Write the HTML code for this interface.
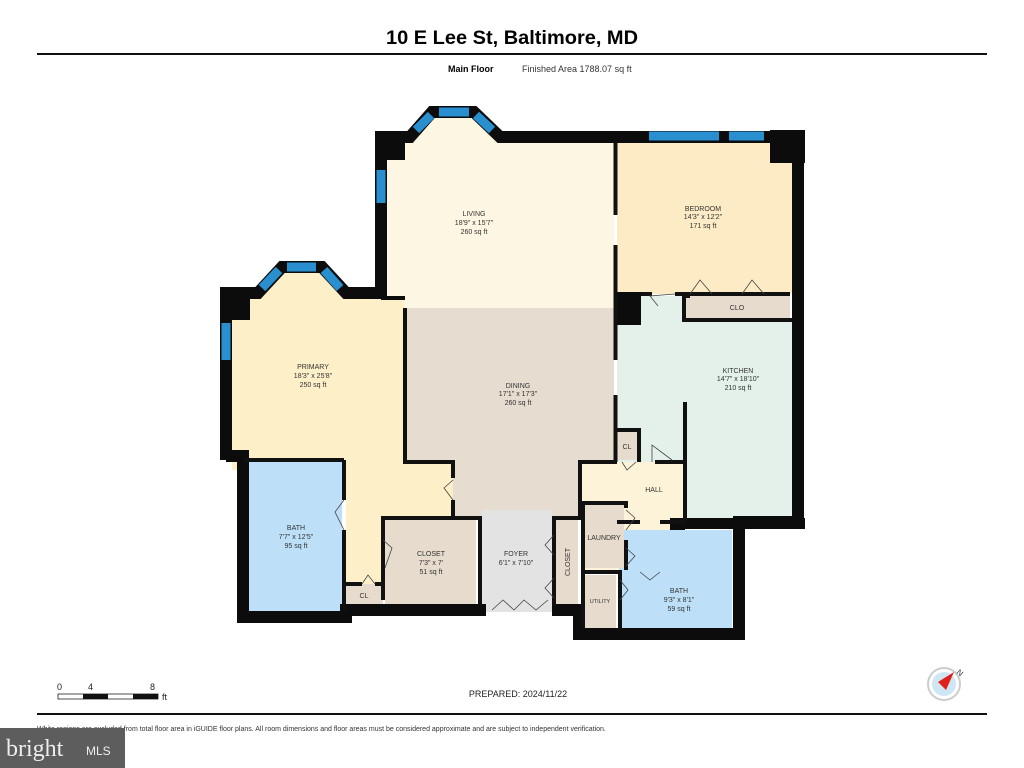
<!DOCTYPE html>
<html><head><meta charset="utf-8"><style>
html,body{margin:0;padding:0;background:#fff}
svg{display:block;font-family:"Liberation Sans",sans-serif}
</style></head><body>
<svg width="1024" height="768" viewBox="0 0 1024 768" xmlns="http://www.w3.org/2000/svg">
<rect width="1024" height="768" fill="#fff"/>
<text x="512" y="44" font-size="19" font-weight="bold" text-anchor="middle" textLength="252" lengthAdjust="spacingAndGlyphs">10 E Lee St, Baltimore, MD</text>
<rect x="37" y="53" width="950" height="2" fill="#111"/>
<text x="448" y="72" font-size="9" font-weight="bold">Main Floor</text>
<text x="522" y="72" font-size="9" fill="#333">Finished Area 1788.07 sq ft</text>

<!-- rooms -->
<polygon points="387,143 410,143 432,113 474,113 500,143 614,143 614,308 387,308" fill="#fdf6e3"/>
<rect x="617" y="143" width="176" height="151" fill="#fdebc6"/>
<polygon points="232,298 258,298 282,270 322,270 346,298 403,298 405,308 405,462 453,462 453,516 383,516 383,584 346,584 346,470 232,470" fill="#fdefc8"/>
<polygon points="405,308 614,308 614,462 581,462 581,516 453,516 453,462 405,462" fill="#e6ddd0"/>
<rect x="482" y="510" width="70" height="102" fill="#e3e3e3"/>
<polygon points="617,325 641,325 641,296 684,296 684,322 793,322 793,520 683,520 683,462 617,462" fill="#e3f1ea"/>
<rect x="686" y="296" width="104" height="24" fill="#e6dbcc"/>
<rect x="617" y="432" width="20" height="28" fill="#e6dbcc"/>
<rect x="581" y="462" width="102" height="108" fill="#fdf3d8"/>
<rect x="248" y="462" width="94" height="150" fill="#bde0f8"/>
<rect x="619" y="530" width="113" height="98" fill="#bde0f8"/>
<rect x="385" y="520" width="91" height="84" fill="#e6dbcc"/>
<rect x="346" y="584" width="37" height="21" fill="#e6dbcc"/>
<rect x="556" y="520" width="22" height="84" fill="#e6dbcc"/>
<rect x="585" y="505" width="39" height="63" fill="#e6dbcc"/>
<rect x="585" y="575" width="31" height="53" fill="#e6dbcc"/>

<!-- outer walls -->
<g fill="none" stroke="#0c0c0c" stroke-width="12" stroke-linejoin="miter">
<polyline points="226,460 226,293 258,293 282,267 322,267 346,293 381,293 381,137 410,137 432,112 474,112 500,137 798,137 798,522 739,522 739,634 579,634 579,610 552,610"/>
<polyline points="486,610 346,610 346,617 243,617 243,456 226,456"/>
</g>
<g fill="#0c0c0c">
<rect x="375" y="132" width="30" height="28"/>
<rect x="220" y="287" width="30" height="33"/>
<rect x="770" y="130" width="35" height="33"/>
<rect x="614" y="292" width="27" height="33"/>
<rect x="381" y="296" width="24" height="4"/>
<rect x="683" y="518" width="122" height="11"/>
<rect x="670" y="518" width="15" height="12"/>
</g>
<!-- interior walls -->
<g fill="none" stroke="#111" stroke-width="4">
<line x1="615.5" y1="143" x2="615.5" y2="215"/>
<line x1="615.5" y1="245" x2="615.5" y2="360"/>
<line x1="615.5" y1="395" x2="615.5" y2="462"/>
<polyline points="405,308 405,462 453,462 453,478"/>
<line x1="453" y1="500" x2="453" y2="518"/>
<polyline points="383,600 383,518 480,518 480,606"/>
<polyline points="554,606 554,518 580,518 580,462 617,462"/>
<line x1="344" y1="460" x2="344" y2="500"/>
<line x1="344" y1="530" x2="344" y2="610"/>
<line x1="346" y1="584" x2="362" y2="584"/>
<line x1="375" y1="584" x2="385" y2="584"/>
<line x1="244" y1="460" x2="344" y2="460"/>
<polyline points="583,628 583,503 626,503 626,508"/>
<line x1="626" y1="540" x2="626" y2="570"/>
<polyline points="583,572 620,572 620,630"/>
<line x1="685" y1="520" x2="685" y2="402"/>
<line x1="655" y1="462" x2="685" y2="462"/>
<polyline points="617,430 639,430 639,462"/>
<polyline points="684,322 684,296 690,296"/>
<line x1="684" y1="320" x2="793" y2="320"/>
<line x1="641" y1="294" x2="652" y2="294"/>
<line x1="675" y1="294" x2="790" y2="294"/>
<line x1="617" y1="522" x2="640" y2="522"/>
<line x1="660" y1="522" x2="685" y2="522"/>
</g>
<!-- windows -->
<g stroke="#2a8fcf" stroke-width="9" fill="none">
<line x1="416" y1="130" x2="431" y2="115"/>
<line x1="439" y1="112" x2="469" y2="112"/>
<line x1="476" y1="115" x2="492" y2="130"/>
<line x1="262" y1="288" x2="279" y2="270"/>
<line x1="287" y1="267" x2="316" y2="267"/>
<line x1="324" y1="270" x2="340" y2="288"/>
<line x1="381" y1="170" x2="381" y2="203"/>
<line x1="226" y1="323" x2="226" y2="360"/>
<line x1="649" y1="136" x2="719" y2="136"/>
<line x1="729" y1="136" x2="764" y2="136"/>
</g>
<!-- doors -->
<g stroke="#444" stroke-width="0.8" fill="none">
<polyline points="453,480 444,488 453,500"/>
<polyline points="344,500 335,512 344,530"/>
<polyline points="383,540 392,548 385,568"/>
<polyline points="362,584 368,575 375,584"/>
<polyline points="492,610 503,600 514,610 524,600 536,610 548,600"/>
<polyline points="554,535 545,545 554,555"/>
<polyline points="554,578 545,588 554,598"/>
<polyline points="626,510 635,518 626,530"/>
<polyline points="626,548 635,556 626,566"/>
<polyline points="620,580 628,590 620,600"/>
<polyline points="640,572 650,580 660,572"/>
<polyline points="658,306 650,296 675,294"/>
<polyline points="690,294 700,280 712,294"/>
<polyline points="742,294 752,280 764,294"/>
<polyline points="622,462 627,470 636,462"/>
<polyline points="652,462 652,445 672,460"/>
</g>
<!-- labels -->
<g font-size="7" fill="#333" text-anchor="middle">
<text x="474" y="216">LIVING</text><text x="474" y="225">18'9" x 15'7"</text><text x="474" y="234">260 sq ft</text>
<text x="703" y="211">BEDROOM</text><text x="703" y="219">14'3" x 12'2"</text><text x="703" y="228">171 sq ft</text>
<text x="313" y="369">PRIMARY</text><text x="313" y="378">18'3" x 25'8"</text><text x="313" y="387">250 sq ft</text>
<text x="518" y="388">DINING</text><text x="518" y="396">17'1" x 17'3"</text><text x="518" y="405">260 sq ft</text>
<text x="738" y="373">KITCHEN</text><text x="738" y="381">14'7" x 18'10"</text><text x="738" y="390">210 sq ft</text>
<text x="296" y="530">BATH</text><text x="296" y="539">7'7" x 12'5"</text><text x="296" y="548">95 sq ft</text>
<text x="431" y="556">CLOSET</text><text x="431" y="565">7'3" x 7'</text><text x="431" y="574">51 sq ft</text>
<text x="516" y="556">FOYER</text><text x="516" y="565">6'1" x 7'10"</text>
<text x="679" y="593">BATH</text><text x="679" y="602">9'3" x 8'1"</text><text x="679" y="611">59 sq ft</text>
<text x="654" y="492">HALL</text>
<text x="737" y="310">CLO</text>
<text x="627" y="449">CL</text>
<text x="364" y="598">CL</text>
<text x="604" y="540">LAUNDRY</text>
<text x="600" y="603" font-size="5.5">UTILITY</text>
<text x="0" y="0" transform="translate(570,562) rotate(-90)">CLOSET</text>
</g>
<!-- footer -->
<g font-size="9" fill="#222">
<text x="57" y="690">0</text><text x="88" y="690">4</text><text x="150" y="690">8</text>
<text x="162" y="700">ft</text>
<text x="518" y="697" text-anchor="middle">PREPARED: 2024/11/22</text>
</g>
<rect x="58" y="694" width="100" height="5" fill="#fff" stroke="#222" stroke-width="0.8"/>
<rect x="83" y="694" width="25" height="5" fill="#111"/>
<rect x="133" y="694" width="25" height="5" fill="#111"/>
<rect x="37" y="713" width="950" height="2" fill="#111"/>
<text x="37" y="731" font-size="7" fill="#333">White regions are excluded from total floor area in iGUIDE floor plans. All room dimensions and floor areas must be considered approximate and are subject to independent verification.</text>
<circle cx="944" cy="684" r="16" fill="#fff" stroke="#ccc" stroke-width="2"/>
<circle cx="944" cy="684" r="12" fill="#cfe6f5"/>
<polygon points="954,672 946,690 938,682" fill="#e0201c"/>
<text x="956" y="673" font-size="8" fill="#333" transform="rotate(40 956 673)">N</text>
<rect x="0" y="728" width="125" height="40" fill="#5d5d5d"/>
<text x="6" y="756" font-size="24" fill="#eee" font-family="Liberation Serif,serif">bright</text>
<text x="86" y="755" font-size="12" fill="#eee">MLS</text>
</svg>
</body></html>
